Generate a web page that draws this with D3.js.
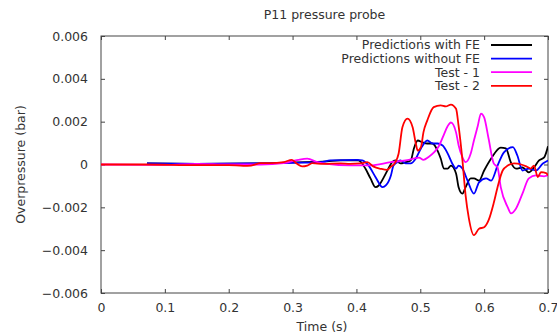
<!DOCTYPE html>
<html>
<head>
<meta charset="utf-8">
<script src="https://cdnjs.cloudflare.com/ajax/libs/d3/7.8.5/d3.min.js"></script>
<style>
  html, body { margin: 0; padding: 0; background: #fff; }
  svg { display: block; }
  text { font-family: "DejaVu Sans", sans-serif; fill: #333; }
</style>
</head>
<body>
<svg id="chart" width="557" height="335"></svg>
<script>
// ---------------- data ----------------
const title = "P11 pressure probe";
const xLabel = "Time (s)";
const yLabel = "Overpressure (bar)";
const xTicks = [0, 0.1, 0.2, 0.3, 0.4, 0.5, 0.6, 0.7];
const yTicks = [-0.006, -0.004, -0.002, 0, 0.002, 0.004, 0.006];
const seriesNames = ["Predictions with FE", "Predictions without FE", "Test - 1", "Test - 2"];
const seriesColors = ["#000000", "#0000ff", "#ff00ff", "#ff0000"];

const withFE_t = [0.072,0.15,0.25,0.30,0.354,0.375,0.403,0.414,0.422,0.430,0.435,0.443,0.450,0.456,0.461,0.469,0.477,0.485,0.490,0.496,0.503,0.511,0.519,0.527,0.532,0.537,0.543,0.548,0.556,0.560,0.566,0.571,0.579,0.584,0.592,0.600,0.611,0.626,0.634,0.642,0.650,0.660,0.670,0.678,0.686,0.694,0.700];
const withFE_y = [0.00005,0.00003,0.00005,0.0001,0.00015,0.00019,0.00019,-0.00019,-0.00065,-0.00106,-0.00098,-0.00059,-0.00019,0.00011,0.00019,0.00005,0.00011,0.00019,0.00075,0.00112,0.00104,0.00098,0.00098,0.00065,0.00028,-0.00019,-0.00019,-0.00005,-0.00042,-0.00106,-0.00136,-0.00106,-0.00065,-0.00065,-0.00075,-0.00028,0.00028,0.00079,0.00075,0.00009,-0.00019,-0.00014,-0.00037,-0.00014,0.00019,0.00033,0.00085];

const withoutFE_t = [0.072,0.15,0.25,0.30,0.344,0.359,0.401,0.409,0.419,0.430,0.441,0.446,0.454,0.458,0.464,0.469,0.477,0.485,0.493,0.501,0.511,0.519,0.527,0.535,0.543,0.550,0.556,0.560,0.566,0.574,0.584,0.592,0.603,0.611,0.621,0.631,0.645,0.652,0.660,0.670,0.681,0.692,0.700];
const withoutFE_y = [0.00005,0.00003,0.00005,0.00008,0.00011,0.00019,0.00022,0.00019,-0.00005,-0.00059,-0.00106,-0.00098,-0.00051,-0.00005,0.00011,0.00019,0.00005,0.00005,0.00028,0.00075,0.00112,0.00098,0.00098,0.00089,0.00051,0.00005,-0.00019,-0.00005,-0.00019,-0.00075,-0.00136,-0.00083,-0.00065,-0.00075,-0.00005,0.00057,0.00081,0.00042,-0.00028,-0.00019,-0.00028,0.00005,0.00019];

const test1_t = [0,0.1,0.15,0.2,0.25,0.286,0.309,0.323,0.339,0.354,0.39,0.422,0.454,0.477,0.488,0.498,0.505,0.513,0.521,0.529,0.537,0.543,0.548,0.556,0.560,0.566,0.571,0.579,0.584,0.590,0.595,0.600,0.607,0.615,0.621,0.626,0.637,0.642,0.650,0.660,0.670,0.681,0.694,0.700];
const test1_y = [0,-0.00002,0.00003,0,0,0.00006,0.00022,0.00027,0.00011,0.00003,-0.00004,-0.00004,0.00011,0.00019,0.00026,0.00032,0.00022,0.00035,0.00055,0.00085,0.0014,0.0018,0.00196,0.0015,0.0009,0.00034,0.00011,0.00051,0.00112,0.0018,0.00238,0.0022,0.0012,0.00005,-0.00013,-0.00106,-0.002,-0.00228,-0.00205,-0.00136,-0.00065,-0.00051,-0.00055,-0.00051];

const test2_t = [0,0.07,0.15,0.2,0.223,0.235,0.25,0.265,0.286,0.299,0.307,0.315,0.323,0.331,0.348,0.375,0.39,0.406,0.417,0.427,0.438,0.448,0.454,0.461,0.466,0.472,0.480,0.488,0.493,0.496,0.501,0.505,0.511,0.521,0.532,0.540,0.548,0.556,0.560,0.566,0.571,0.576,0.584,0.592,0.600,0.607,0.615,0.621,0.629,0.637,0.647,0.658,0.666,0.673,0.678,0.684,0.689,0.697,0.700];
const test2_y = [0,0,-0.00003,-0.00003,-0.00006,-0.00005,0.00006,0.00006,0.00011,0.00022,0.00003,-0.00009,-0.00005,0.00006,0.00003,0.00005,0.00003,0.00005,0.00011,-0.0001,-0.0002,-0.00025,-0.0001,0.0001,0.0005,0.00174,0.00214,0.00174,0.00098,0.00065,0.00081,0.00151,0.00206,0.00268,0.00276,0.00271,0.0028,0.0026,0.0018,0.0002,-0.00145,-0.0025,-0.0033,-0.003,-0.00293,-0.0026,-0.0018,-0.00106,-0.00028,-0.00005,0.00005,0,-0.00009,-0.00019,-0.00005,-0.00059,-0.00036,-0.0004,-0.00051];

const seriesT = [withFE_t, withoutFE_t, test1_t, test2_t];
const seriesY = [withFE_y, withoutFE_y, test1_y, test2_y];

// ---------------- layout ----------------
const svg = d3.select("#chart");
const L = 101, R = 548, T = 36, B = 293;
const x = d3.scaleLinear().domain([0, 0.7]).range([L, R]);
const y = d3.scaleLinear().domain([-0.006, 0.006]).range([B, T]);
const fmt = d => d === 0 ? "0" : d3.format(".3f")(d).replace("-", "-");
const fmtX = d => d === 0 ? "0" : d3.format(".1f")(d);

const axisColor = "#444";
const fontSize = "12.5px";

// axes (inward ticks, gnuplot style)
const gx = svg.append("g").attr("transform", `translate(0,${B})`)
  .call(d3.axisBottom(x).tickValues(xTicks).tickFormat(fmtX).tickSizeInner(-4).tickSizeOuter(0).tickPadding(10));
const gxt = svg.append("g").attr("transform", `translate(0,${T})`)
  .call(d3.axisTop(x).tickValues(xTicks).tickFormat("").tickSizeInner(-4).tickSizeOuter(0));
const gy = svg.append("g").attr("transform", `translate(${L},0)`)
  .call(d3.axisLeft(y).tickValues(yTicks).tickFormat(fmt).tickSizeInner(-4).tickSizeOuter(0).tickPadding(13));
const gyr = svg.append("g").attr("transform", `translate(${R},0)`)
  .call(d3.axisRight(y).tickValues(yTicks).tickFormat("").tickSizeInner(-4).tickSizeOuter(0));

[gx, gxt, gy, gyr].forEach(g => {
  g.selectAll("path.domain").remove();
  g.selectAll("line").attr("stroke", axisColor);
  g.selectAll("text").attr("font-family", "DejaVu Sans, sans-serif").attr("font-size", fontSize).attr("fill", "#333");
});

// frame
svg.append("rect").attr("x", L).attr("y", T).attr("width", R - L).attr("height", B - T)
  .attr("fill", "none").attr("stroke", axisColor).attr("stroke-width", 1);

// clip
svg.append("clipPath").attr("id", "clip").append("rect")
  .attr("x", L).attr("y", T).attr("width", R - L).attr("height", B - T);

// lines
const line = d3.line().x(d => x(d[0])).y(d => y(d[1])).curve(d3.curveMonotoneX);
const plot = svg.append("g").attr("clip-path", "url(#clip)");
seriesNames.forEach((name, i) => {
  const pts = seriesT[i].map((t, k) => [t, seriesY[i][k]]);
  plot.append("path").datum(pts).attr("d", line)
    .attr("fill", "none").attr("stroke", seriesColors[i]).attr("stroke-width", 1.8)
    .attr("stroke-linejoin", "round");
});

// title and labels
svg.append("text").attr("x", (L + R) / 2).attr("y", 19).attr("text-anchor", "middle")
  .attr("font-size", fontSize).text(title);
svg.append("text").attr("x", 322).attr("y", 331).attr("text-anchor", "middle")
  .attr("font-size", fontSize).text(xLabel);
svg.append("text").attr("transform", `translate(21,${(T + B) / 2}) rotate(-90)`)
  .attr("text-anchor", "middle").attr("dy", "0.35em")
  .attr("font-size", fontSize).text(yLabel);

// legend
const legY0 = 45, legDY = 13.6;
seriesNames.forEach((name, i) => {
  const yy = legY0 + i * legDY;
  svg.append("text").attr("x", 480).attr("y", yy).attr("dy", "0.35em")
    .attr("text-anchor", "end").attr("font-size", fontSize).text(name);
  svg.append("line").attr("x1", 491).attr("x2", 532).attr("y1", yy).attr("y2", yy)
    .attr("stroke", seriesColors[i]).attr("stroke-width", 1.8);
});
</script>
</body>
</html>
